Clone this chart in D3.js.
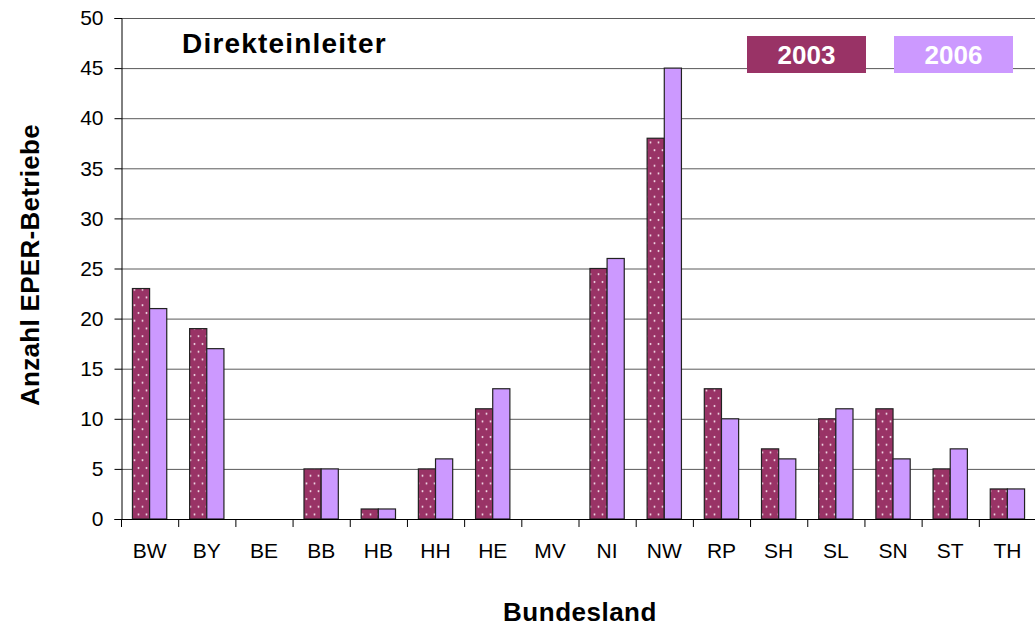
<!DOCTYPE html>
<html><head><meta charset="utf-8">
<script src="https://cdn.jsdelivr.net/npm/d3@7"></script>
<style>body{margin:0;background:#fff}svg{display:block;font-family:"Liberation Sans",Arial,sans-serif}</style>
</head><body><svg id="c" width="1035" height="628"></svg>
<script>
const categories = ["BW","BY","BE","BB","HB","HH","HE","MV","NI","NW","RP","SH","SL","SN","ST","TH"];
const values2003 = [23,19,0,5,1,5,11,0,25,38,13,7,10,11,5,3];
const values2006 = [21,17,0,5,1,6,13,0,26,45,10,6,11,6,7,3];
const seriesNames = ["2003","2006"];
const yTicks = [0,5,10,15,20,25,30,35,40,45,50];

const svg = d3.select("#c");
const m = {l:121, r:1036, t:18, b:519};
const x0 = d3.scaleBand().domain(categories).range([m.l, m.r]).paddingInner(0.4).paddingOuter(0.2);
const x1 = d3.scaleBand().domain(seriesNames).range([0, x0.bandwidth()]);
const y = d3.scaleLinear().domain([0,50]).range([m.b, m.t]);

const defs = svg.append("defs");
const pat = defs.append("pattern").attr("id","dots").attr("patternUnits","userSpaceOnUse")
  .attr("width",8).attr("height",15.5);
pat.append("rect").attr("width",8).attr("height",15.5).attr("fill","#993366");
pat.append("circle").attr("cx",2.5).attr("cy",3).attr("r",1).attr("fill","#f2d9e6");
pat.append("circle").attr("cx",6.5).attr("cy",10.75).attr("r",1).attr("fill","#f2d9e6");

// gridlines
svg.append("g").selectAll("line").data(yTicks.filter(d=>d>0)).join("line")
  .attr("x1",m.l).attr("x2",1035).attr("y1",d=>y(d)+0.5).attr("y2",d=>y(d)+0.5)
  .attr("stroke","#5a5a5a").attr("stroke-width",1);

// y axis
const ya = svg.append("g").attr("transform",`translate(${m.l+0.5},0)`)
  .call(d3.axisLeft(y).tickValues(yTicks).tickSize(7).tickPadding(11));
ya.select(".domain").attr("stroke","#000");
ya.selectAll(".tick line").attr("stroke","#000");
ya.selectAll(".tick text").attr("font-size",21).attr("fill","#000").attr("font-family","Liberation Sans, Arial, sans-serif");

// bars
const fills = {"2003":"url(#dots)","2006":"#cc99ff"};
const data = categories.map((c,i)=>({c, v:{"2003":values2003[i],"2006":values2006[i]}}));
const g = svg.append("g");
data.forEach(d=>{
  seriesNames.forEach(s=>{
    if(d.v[s]<=0) return;
    g.append("rect")
      .attr("x",x0(d.c)+x1(s)).attr("width",x1.bandwidth())
      .attr("y",y(d.v[s])).attr("height",y(0)-y(d.v[s]))
      .attr("fill",fills[s]).attr("stroke","#222").attr("stroke-width",1.2);
  });
});

// x axis
const step = x0.step();
svg.append("line").attr("x1",m.l).attr("x2",1035).attr("y1",m.b+0.5).attr("y2",m.b+0.5).attr("stroke","#000");
svg.append("g").selectAll("line").data(d3.range(categories.length+1)).join("line")
  .attr("x1",i=>m.l+0.5+i*step).attr("x2",i=>m.l+0.5+i*step)
  .attr("y1",m.b).attr("y2",m.b+8).attr("stroke","#000");
svg.append("g").selectAll("text").data(categories).join("text")
  .attr("x",c=>x0(c)+x0.bandwidth()/2).attr("y",558)
  .attr("text-anchor","middle").attr("font-size",21).text(c=>c);

// titles
svg.append("text").attr("x",182).attr("y",53).attr("font-size",28).attr("font-weight","bold")
  .attr("letter-spacing",1.2).text("Direkteinleiter");
svg.append("text").attr("x",580).attr("y",621).attr("text-anchor","middle").attr("font-size",26).attr("font-weight","bold")
  .attr("letter-spacing",0.5).text("Bundesland");
svg.append("text").attr("transform","translate(39,265) rotate(-90)").attr("text-anchor","middle")
  .attr("font-size",26).attr("font-weight","bold").attr("letter-spacing",0.3).text("Anzahl EPER-Betriebe");

// legend
const leg = [{n:"2003",c:"#993366",x:747},{n:"2006",c:"#cc99ff",x:894}];
leg.forEach(l=>{
  svg.append("rect").attr("x",l.x).attr("y",36).attr("width",119).attr("height",37).attr("fill",l.c);
  svg.append("text").attr("x",l.x+59.5).attr("y",64).attr("text-anchor","middle")
    .attr("fill","#fff").attr("font-size",26).attr("font-weight","bold").text(l.n);
});
</script></body></html>
